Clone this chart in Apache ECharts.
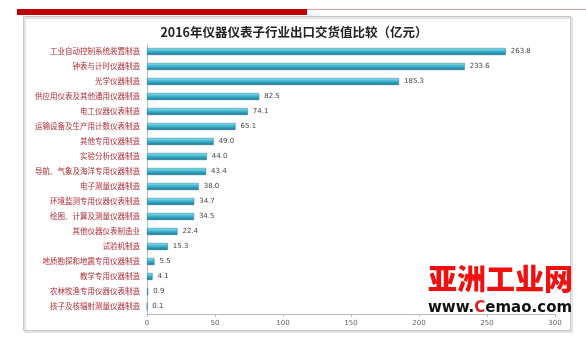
<!DOCTYPE html>
<html><head><meta charset="utf-8">
<script src="https://cdn.jsdelivr.net/npm/echarts@6/dist/echarts.min.js"></script>
<style>html,body{margin:0;padding:0;background:#fff}#c{width:586px;height:338px}</style>
</head><body><div id="c"></div>
<script>
const categories = ['工业自动控制系统装置制造','钟表与计时仪器制造','光学仪器制造','供应用仪表及其他通用仪器制造','电工仪器仪表制造','运输设备及生产用计数仪表制造','其他专用仪器制造','实验分析仪器制造','导航、气象及海洋专用仪器制造','电子测量仪器制造','环境监测专用仪器仪表制造','绘图、计算及测量仪器制造','其他仪器仪表制造业','试验机制造','地质勘探和地震专用仪器制造','教学专用仪器制造','农林牧渔专用仪器仪表制造','核子及核辐射测量仪器制造'];
const values = [263.8,233.6,185.3,82.5,74.1,65.1,49.0,44.0,43.4,38.0,34.7,34.5,22.4,15.3,5.5,4.1,0.9,0.1];
const xTicks = [0,50,100,150,200,250,300];
const titleText = '2016年仪器仪表子行业出口交货值比较（亿元）';

const chart = echarts.init(document.getElementById('c'));
chart.setOption({
  animation:false,
  backgroundColor:'#fff',
  title:{text:titleText,left:289,top:21,textAlign:'center',
    textStyle:{fontFamily:'Noto Sans CJK SC',fontSize:12.5,fontWeight:'bold',color:'#222'}},
  graphic:[
    {type:'rect',shape:{x:17,y:9,width:290,height:6},style:{fill:'#c00000'}},
    {type:'line',shape:{x1:307,y1:9.5,x2:586,y2:9.5},style:{stroke:'#d8a0a0',lineWidth:1}},
    {type:'rect',shape:{x:25,y:18,width:547,height:314},style:{fill:'none',stroke:'#e4e4e4',lineWidth:2}},
    {type:'rect',shape:{x:23.5,y:16.5,width:547,height:314},style:{fill:'none',stroke:'#c8c8c8',lineWidth:1}},
    {type:'text',left:428,top:264,z:100,style:{text:'亚洲工业网',fontFamily:'Noto Sans CJK SC',fontSize:29,fontWeight:'900',fill:'#f01010'}},
    {type:'text',left:428,top:301,z:100,style:{text:'www.{c|C}emao.com',fontFamily:'DejaVu Sans',fontSize:15,fontWeight:'bold',fill:'#111',
      rich:{c:{fontFamily:'DejaVu Sans',fontSize:15,fontWeight:'bold',fill:'#e02020'}}}}
  ],
  grid:{left:147,right:31,top:44,bottom:24},
  xAxis:{type:'value',min:0,max:300,interval:50,
    axisLine:{show:true,lineStyle:{color:'#bbb'}},
    axisTick:{show:true,length:3,lineStyle:{color:'#bbb'}},
    splitLine:{show:false},
    axisLabel:{fontSize:7,color:'#666',margin:6,fontFamily:'DejaVu Sans',
      formatter:v=>xTicks.includes(v)?String(v):''}},
  yAxis:{type:'category',data:categories,inverse:true,
    axisLine:{show:true,lineStyle:{color:'#bbb'}},
    axisTick:{show:false},
    axisLabel:{fontSize:7.5,color:'#b02a34',margin:7,fontFamily:'Noto Sans CJK SC'}},
  series:[{type:'bar',data:values,barWidth:7,
    itemStyle:{color:new echarts.graphic.LinearGradient(0,0,0,1,[
      {offset:0,color:'#9fe4f0'},{offset:0.35,color:'#4dc0d8'},{offset:0.7,color:'#2a9ab6'},{offset:1,color:'#1c6e86'}]),
      borderColor:'#1e7890',borderWidth:0.5},
    label:{show:true,position:'right',distance:5,fontSize:7,color:'#444',fontFamily:'DejaVu Sans',
      formatter:p=>p.value.toFixed(1)}}]
});
</script></body></html>
